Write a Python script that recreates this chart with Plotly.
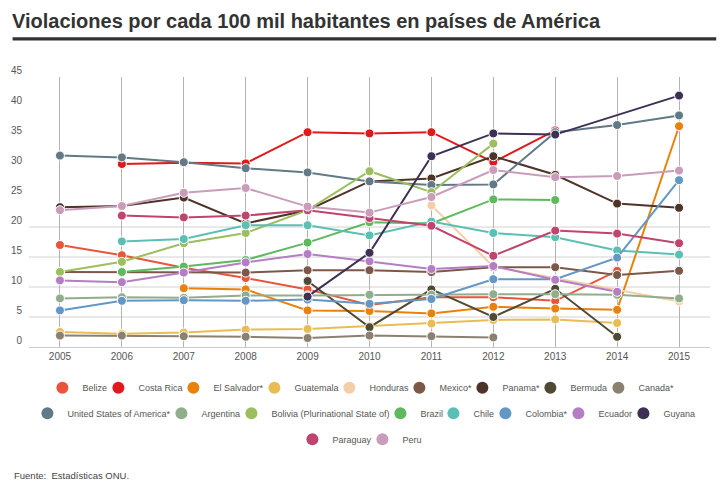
import plotly.graph_objects as go

years = [2005, 2006, 2007, 2008, 2009, 2010, 2011, 2012, 2013, 2014, 2015]

countries = ["Belize", "Costa Rica", "El Salvador*", "Guatemala", "Honduras", "Mexico*",
             "Panama*", "Bermuda", "Canada*", "United States of America*", "Argentina",
             "Bolivia (Plurinational State of)", "Brazil", "Chile", "Colombia*", "Ecuador",
             "Guyana", "Paraguay", "Peru"]

belize = [17.0, 15.3, 13.2, 11.5, 9.6, 7.0, 8.3, 8.3, 7.7, 12.7, None]
costa_rica = [None, 30.5, 30.7, 30.6, 35.8, 35.6, 35.8, 30.8, 36.1, None, None]
el_salvador = [None, None, 9.8, 9.6, 6.1, 6.0, 5.6, 6.7, 6.4, 6.2, 36.8]
guatemala = [2.5, 2.2, 2.4, 2.9, 3.0, 3.5, 3.9, 4.5, 4.6, 4.0, None]
honduras = [None, None, None, None, None, None, 23.6, 13.4, None, None, 7.6]
mexico = [12.5, 12.5, 12.5, 12.4, 12.8, 12.8, 12.5, 13.3, 13.3, 12.0, 12.7]
panama = [23.3, 23.5, 24.9, 20.6, 22.8, 27.6, 28.1, 31.8, 28.7, 23.9, 23.2]
bermuda = [None, None, None, None, 11.0, 3.3, 9.6, 5.0, 9.7, 1.7, None]
canada = [1.9, 1.9, 1.8, 1.7, 1.5, 1.9, 1.8, 1.6, None, None, None]
usa = [31.9, 31.6, 30.8, 29.8, 29.1, 27.6, 27.0, 27.1, 35.8, 37.0, 38.6]
argentina = [8.1, 8.3, 8.2, 8.6, 8.6, 8.7, 8.7, 8.8, 8.8, 8.7, 8.1]
bolivia = [12.5, 14.2, 17.3, 19.0, 22.8, 29.3, 25.8, 33.9, None, None, None]
brazil = [None, 12.5, 13.4, 14.5, 17.4, 20.8, 20.6, 24.6, 24.5, None, None]
chile = [None, 17.6, 18.0, 20.3, 20.3, 18.6, 20.9, 19.0, 18.3, 16.1, 15.4]
colombia = [6.1, 7.7, 7.8, 7.7, 7.9, 7.2, 8.0, 11.3, 11.3, 14.9, 27.8]
ecuador = [11.1, 10.8, 12.4, 14.1, 15.5, 14.3, 13.0, 13.5, 11.2, 9.2, None]
guyana = [None, None, None, None, 8.4, 15.7, 31.8, 35.6, 35.4, None, 41.9]
paraguay = [None, 21.9, 21.6, 21.9, 22.8, 21.5, 20.2, 15.2, 19.4, 18.9, 17.3]
peru = [22.8, 23.5, 25.7, 26.5, 23.4, 22.4, 25.0, 29.5, 28.3, 28.5, 29.4]

series = [belize, costa_rica, el_salvador, guatemala, honduras, mexico, panama, bermuda,
          canada, usa, argentina, bolivia, brazil, chile, colombia, ecuador, guyana,
          paraguay, peru]

colors = ["#e8553b", "#e0191c", "#e8820d", "#e8bd55", "#f2cfa6", "#7c5848", "#4f3329",
          "#4e4a33", "#8a8171", "#627a86", "#90ad8c", "#9cbe5e", "#5db85e", "#5cbfb4",
          "#6497c4", "#b47dc4", "#3e3055", "#c0446e", "#c99cb9"]

# legend rows as in the reference: 9 + 8 + 2 entries
legend_rows = ["legend"] * 9 + ["legend2"] * 8 + ["legend3"] * 2

FONT = "Liberation Sans, Arial, sans-serif"
LEG_SIZE = 9

# approximate Arial / Liberation Sans advance widths (per 1000 em) to tighten legend spacing
_W = {c: 556 for c in "abdeghnopqu0123456789"}
_W.update({"c": 500, "k": 500, "s": 500, "v": 500, "x": 500, "y": 500, "z": 500,
           "f": 278, "t": 278, "i": 222, "j": 222, "l": 222, "m": 833, "r": 333, "w": 722,
           " ": 278, "*": 389, "(": 333, ")": 333, ".": 278,
           "A": 667, "B": 667, "C": 722, "D": 722, "E": 667, "F": 611, "G": 778, "H": 722,
           "I": 278, "J": 500, "K": 667, "L": 556, "M": 833, "N": 722, "O": 778, "P": 667,
           "Q": 778, "R": 722, "S": 667, "T": 611, "U": 722, "V": 667, "W": 944, "X": 667,
           "Y": 667, "Z": 611})


def text_width(s, size):
    return sum(_W.get(c, 556) for c in s) * size / 1000.0


fig = go.Figure()

for name, vals, col in zip(countries, series, colors):
    fig.add_trace(go.Scatter(
        x=years, y=vals, mode="lines+markers", name=name, connectgaps=True,
        line=dict(color=col, width=2),
        marker=dict(color=col, size=9, line=dict(color="white", width=1)),
        showlegend=False, legendgroup=name))

for i, (name, col, lg) in enumerate(zip(countries, colors, legend_rows)):
    last_in_row = (i == len(legend_rows) - 1) or (legend_rows[i + 1] != lg)
    tw = text_width(name, LEG_SIZE)
    lw = tw + 4 if last_in_row else tw - 14
    fig.add_trace(go.Scatter(
        x=[None], y=[None], mode="markers", name=name, legendgroup=name,
        marker=dict(color=col, size=12), showlegend=True, legend=lg,
        legendwidth=max(1, round(lw))))

# plot area geometry (pixels)
L, R, T, B = 29.4, 14.2, 77.3, 143.7
W, H = 724, 491
pw, ph = W - L - R, H - T - B


def px_x(px):
    return (px - L) / pw


def px_y(py):
    return (H - B - py) / ph


# horizontal grid lines (only lower part, like reference)
for v in [5, 10, 15, 20]:
    fig.add_shape(type="line", xref="paper", yref="y", x0=0, x1=1, y0=v, y1=v,
                  line=dict(color="#d2d2d2", width=1), layer="below")

# title underline bar
fig.add_shape(type="rect", xref="paper", yref="paper",
              x0=px_x(13), x1=px_x(716), y0=px_y(40.7), y1=px_y(37.5),
              fillcolor="#333333", line=dict(width=0))

legend_common = dict(orientation="h", xanchor="center", yanchor="middle",
                     font=dict(family=FONT, size=LEG_SIZE, color="#555555"),
                     itemwidth=30, itemsizing="trace", bgcolor="rgba(0,0,0,0)",
                     tracegroupgap=0)

fig.update_layout(
    width=W, height=H,
    margin=dict(l=L, r=R, t=T, b=B, autoexpand=False),
    paper_bgcolor="white", plot_bgcolor="white",
    title=dict(text="<b>Violaciones por cada 100 mil habitantes en países de América</b>",
               x=12 / W, xanchor="left", y=1 - 20.5 / H, yanchor="middle",
               font=dict(family=FONT, size=20, color="#333333")),
    xaxis=dict(range=[2004.5, 2015.5], tickvals=years, showgrid=True,
               gridcolor="#b3b3b3", gridwidth=1, zeroline=False, showline=True,
               linecolor="#cccccc", linewidth=1, ticks="",
               tickfont=dict(family=FONT, size=10, color="#555555")),
    yaxis=dict(range=[0, 45], tickvals=list(range(0, 50, 5)), showgrid=False,
               zeroline=False, showline=False, ticks="",
               ticklabelposition="outside top", ticklabelstandoff=6,
               tickfont=dict(family=FONT, size=10, color="#555555")),
    legend=dict(x=px_x(362.5), y=px_y(388), **legend_common),
    legend2=dict(x=px_x(366), y=px_y(413.5), **legend_common),
    legend3=dict(x=px_x(361.5), y=px_y(439.5), **legend_common),
    annotations=[dict(text="Fuente:  Estadísticas ONU.", xref="paper", yref="paper",
                      x=px_x(12), y=px_y(476), xanchor="left", yanchor="middle",
                      showarrow=False,
                      font=dict(family=FONT, size=9.5, color="#444444"))],
)

fig.write_html("out.html")
